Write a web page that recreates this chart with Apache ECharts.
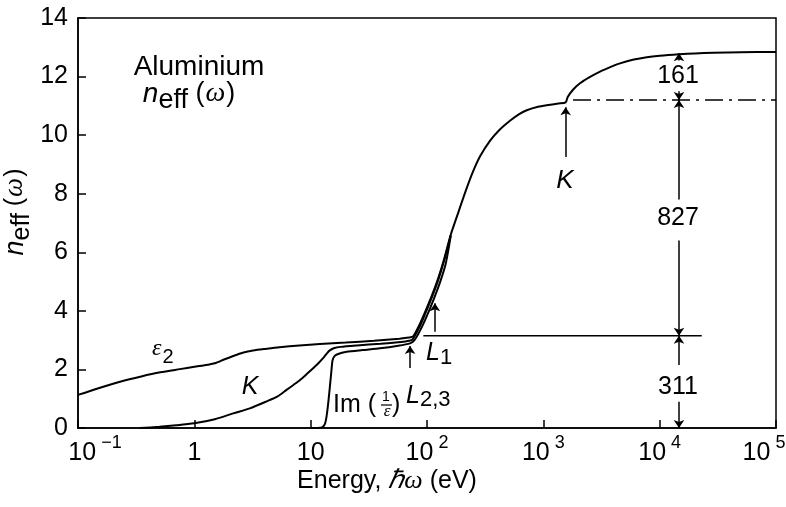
<!DOCTYPE html>
<html><head><meta charset="utf-8">
<script src="https://cdn.jsdelivr.net/npm/echarts@6/dist/echarts.min.js"></script>
<style>html,body{margin:0;padding:0;background:#fff}#c{width:786px;height:507px}</style>
</head><body><div id="c"></div>
<script>
// ---- data ----
const xTickLabels = ['10|−1', '1', '10', '10|2', '10|3', '10|4', '10|5']; // exponents -1..5
const yTicks = [0, 2, 4, 6, 8, 10, 12, 14];

// epsilon_2 sum rule (continues past the K edge)
const eps2Data = [
  [0.1,1.13],[0.15,1.36],[0.23,1.58],[0.35,1.76],[0.51,1.90],[0.75,2.01],[1,2.09],[1.3,2.16],[1.5,2.21],
  [1.8,2.34],[2.16,2.46],[2.6,2.57],[3.2,2.65],[4.2,2.71],[5.4,2.76],[8,2.82],[12,2.87],[20,2.92],
  [35,2.98],[58,3.05],[70,3.09],[76,3.13],[85,3.48],[96,3.95],[110,4.52],[125,5.12],[140,5.75],
  [160,6.6],[180,7.2],[219,8.18],[250,8.78],[286,9.28],[350,9.82],[425,10.2],[520,10.5],[620,10.72],
  [720,10.85],[900,10.97],[1100,11.03],[1350,11.08],[1556,11.12],[1620,11.3],[1800,11.55],[2065,11.77],
  [2500,11.98],[3070,12.17],[3800,12.33],[4560,12.45],[6000,12.58],[7740,12.66],[10000,12.71],
  [14660,12.76],[20000,12.79],[28900,12.81],[50000,12.83],[100000,12.84]
];
// K (extinction coefficient) sum rule
const kData = [
  [0.34,0.0],[0.5,0.04],[0.7,0.09],[1,0.16],[1.5,0.3],[2.16,0.5],[3,0.67],[4.19,0.91],[5.2,1.08],
  [6.2,1.3],[7.1,1.47],[8.1,1.64],[9.3,1.85],[10.5,2.04],[11.7,2.22],[12.9,2.4],[13.8,2.55],[14.6,2.65],
  [16,2.73],[18,2.77],[25,2.82],[40,2.88],[60,2.94],[70,2.98],[75,3.02],[85,3.4],[96,3.88],[110,4.46],
  [125,5.06],[140,5.7],[160,6.58]
];
// Im(1/epsilon) sum rule
const imData = [
  [10,0.0],[12.5,0.02],[13.2,0.12],[13.7,0.4],[14.2,0.9],[14.7,1.5],[15.1,1.98],[15.4,2.3],[16,2.45],
  [17,2.52],[20.4,2.6],[28,2.66],[39.5,2.72],[55,2.8],[71.5,2.89],[78,3.0],[88,3.36],[100,3.84],
  [115,4.43],[130,5.0],[145,5.62],[160,6.56]
];
// extrapolation of the L-shell plateau beyond the K edge (dash-dot)
const kEdgeContinuation = [[1800,11.2],[100000,11.2]];
// L-shell total level
const lShellLevel = [[93,3.15],[23000,3.15]];
// electron-count bracket at ~1.5e4 eV: segments [fromY, toY] (arrow at toY)
const bracketX = 14660;
const bracketSegments = [[0.9,0],[2.15,3.15],[6.4,3.15],[7.8,11.2],[11.5,11.2],[12.55,12.8]];
const bracketLabels = ['311', '827', '161'];
// absorption-edge arrows: [x, fromY, toY]
const edgeArrows = [[1556,9.25,10.95],[71.5,2.05,2.8],[117,3.29,4.26]];

// ---- chart ----
const sans = '"Liberation Sans", Arial, sans-serif';
const serif = '"Liberation Serif", "Times New Roman", serif';
const chart = echarts.init(document.getElementById('c'), null, {renderer: 'canvas'});

const lineBase = {type: 'line', showSymbol: false, symbol: 'none', smooth: 0.25,
  lineStyle: {color: '#000', width: 2}, silent: true, z: 3};

const markSegs = bracketSegments.map(s => [{coord: [bracketX, s[0]]}, {coord: [bracketX, s[1]]}])
  .concat(edgeArrows.map(a => [{coord: [a[0], a[1]]}, {coord: [a[0], a[2]]}]));

function xLabel(v) {
  const e = Math.round(Math.log10(v));
  const i = e + 1;
  const t = xTickLabels[i];
  if (t === undefined) return '';
  const p = t.split('|');
  const bStyle = i === 0 ? 'b0' : 'b';
  const sStyle = i === xTickLabels.length - 1 ? 's5' : 's';
  return p.length > 1 ? '{' + bStyle + '|' + p[0] + '}{' + sStyle + '|' + p[1] + '}' : '{b|' + p[0] + '}';
}

chart.setOption({
  animation: false,
  backgroundColor: '#fff',
  grid: {left: 78, right: 10, top: 18, bottom: 79, show: true, borderColor: '#000', borderWidth: 1.5,
    containLabel: false, outerBoundsMode: 'none'},
  xAxis: {
    type: 'log', logBase: 10, min: 0.1, max: 100000, interval: 1, splitNumber: 6,
    axisLine: {lineStyle: {color: '#000', width: 1.5}},
    axisTick: {inside: true, length: 8, lineStyle: {color: '#000', width: 1.5}},
    minorTick: {show: false}, splitLine: {show: false},
    axisLabel: {
      margin: 9, color: '#000', formatter: xLabel, hideOverlap: false,
      rich: {
        b: {fontSize: 25, fontFamily: sans, lineHeight: 26, padding: [6, 0, 0, 0], color: '#000'},
        b0: {fontSize: 25, fontFamily: sans, lineHeight: 26, padding: [6, 0, 0, 34], color: '#000'},
        s: {fontSize: 18, fontFamily: sans, lineHeight: 18, padding: [0, 0, 14, 5], color: '#000'},
        s5: {fontSize: 18, fontFamily: sans, lineHeight: 18, padding: [0, 24, 14, 5], color: '#000'}
      }
    },
    name: '{a|Energy, }{h|ℏω}{a| (eV)}', nameLocation: 'middle', nameGap: 40, nameMoveOverlap: false,
    nameTextStyle: {
      padding: [0, 80, 0, 0],
      rich: {
        a: {fontSize: 25, fontFamily: sans, color: '#000'},
        h: {fontSize: 26, fontFamily: serif, fontStyle: 'italic', color: '#000'}
      }
    }
  },
  yAxis: {
    type: 'value', min: yTicks[0], max: yTicks[yTicks.length - 1], interval: yTicks[1] - yTicks[0],
    axisLine: {show: true, lineStyle: {color: '#000', width: 1.5}},
    axisTick: {show: true, inside: true, length: 8, lineStyle: {color: '#000', width: 1.5}},
    splitLine: {show: false},
    axisLabel: {margin: 10, fontSize: 25, fontFamily: sans, color: '#000'},
    name: '{n|n}{e|eff}{sp| }{w|(}{o|ω}{w|)}', nameLocation: 'middle', nameGap: 45, nameRotate: 90,
    nameMoveOverlap: false,
    nameTextStyle: {
      padding: [0, 0, 0, 22],
      rich: {
        n: {fontSize: 27, fontFamily: sans, fontStyle: 'italic', color: '#000', lineHeight: 30, padding: [0, 0, 6, 0]},
        e: {fontSize: 25, fontFamily: sans, color: '#000', lineHeight: 28, padding: [8, 0, 0, 0]},
        sp: {fontSize: 25, fontFamily: sans, color: '#000', lineHeight: 30, padding: [0, 0, 6, 0]},
        w: {fontSize: 25, fontFamily: sans, color: '#000', lineHeight: 30, padding: [0, 0, 6, 0]},
        o: {fontSize: 27, fontFamily: serif, fontStyle: 'italic', color: '#000', lineHeight: 30, padding: [0, 1, 6, 1]}
      }
    }
  },
  series: [
    Object.assign({}, lineBase, {name: 'ε2', data: eps2Data}),
    Object.assign({}, lineBase, {name: 'K', data: kData}),
    Object.assign({}, lineBase, {name: 'Im(1/ε)', data: imData}),
    Object.assign({}, lineBase, {name: 'K-edge extrapolation', data: kEdgeContinuation, smooth: false,
      lineStyle: {color: '#000', width: 1.5, type: [18, 6, 3, 6]}}),
    Object.assign({}, lineBase, {name: 'L shell', data: lShellLevel, smooth: false,
      lineStyle: {color: '#000', width: 1.5}}),
    {type: 'line', name: 'annotations', data: [], silent: true,
      markLine: {silent: true, animation: false, symbol: ['none', 'arrow'], symbolSize: 8,
        label: {show: false}, lineStyle: {color: '#000', width: 1.5, type: 'solid'}, data: markSegs}}
  ],
  graphic: [
    {type: 'text', x: 199, y: 67, style: {text: 'Aluminium', font: '28px ' + sans, fill: '#000', align: 'center', verticalAlign: 'middle'}},
    {type: 'text', x: 189, y: 97, style: {text: '{n|n}{e|eff}{sp| }{w|(}{o|ω}{w|)}', fill: '#000', align: 'center', verticalAlign: 'middle',
      rich: {
        n: {fontSize: 28, fontFamily: sans, fontStyle: 'italic', lineHeight: 30, padding: [0, 0, 6, 0]},
        e: {fontSize: 27, fontFamily: sans, lineHeight: 28, padding: [8, 0, 0, 0]},
        sp: {fontSize: 27, fontFamily: sans, lineHeight: 30, padding: [0, 0, 6, 0]},
        w: {fontSize: 27, fontFamily: sans, lineHeight: 30, padding: [0, 0, 6, 0]},
        o: {fontSize: 28, fontFamily: serif, fontStyle: 'italic', lineHeight: 30, padding: [0, 1, 6, 1]}
      }}},
    {type: 'text', x: 152, y: 352, style: {text: '{e|ε}{s|2}', fill: '#000', align: 'left', verticalAlign: 'middle',
      rich: {
        e: {fontSize: 24, fontFamily: serif, fontStyle: 'italic', lineHeight: 24, padding: [0, 0, 6, 0]},
        s: {fontSize: 20, fontFamily: sans, lineHeight: 20, padding: [10, 0, 0, 1]}
      }}},
    {type: 'text', x: 250, y: 387, style: {text: 'K', font: 'italic 25px ' + sans, fill: '#000', align: 'center', verticalAlign: 'middle'}},
    {type: 'text', x: 565, y: 181, style: {text: 'K', font: 'italic 26px ' + sans, fill: '#000', align: 'center', verticalAlign: 'middle'}},
    {type: 'text', x: 333, y: 405, style: {text: 'Im (', font: '25px ' + sans, fill: '#000', align: 'left', verticalAlign: 'middle'}},
    {type: 'text', x: 386, y: 397, style: {text: '1', font: '14px ' + sans, fill: '#000', align: 'center', verticalAlign: 'middle'}},
    {type: 'line', shape: {x1: 381, y1: 405, x2: 392, y2: 405}, style: {stroke: '#000', lineWidth: 1.2}},
    {type: 'text', x: 387, y: 412, style: {text: 'ε', font: 'italic 17px ' + serif, fill: '#000', align: 'center', verticalAlign: 'middle'}},
    {type: 'text', x: 392, y: 405, style: {text: ')', font: '25px ' + sans, fill: '#000', align: 'left', verticalAlign: 'middle'}},
    {type: 'text', x: 406, y: 396, style: {text: 'L', font: 'italic 25px ' + sans, fill: '#000', align: 'left', verticalAlign: 'middle'}},
    {type: 'text', x: 420, y: 400, style: {text: '2,3', font: '22px ' + sans, fill: '#000', align: 'left', verticalAlign: 'middle'}},
    {type: 'text', x: 426, y: 353, style: {text: 'L', font: 'italic 25px ' + sans, fill: '#000', align: 'left', verticalAlign: 'middle'}},
    {type: 'text', x: 440, y: 358, style: {text: '1', font: '22px ' + sans, fill: '#000', align: 'left', verticalAlign: 'middle'}},
    {type: 'text', x: 678, y: 387, style: {text: bracketLabels[0], font: '25px ' + sans, fill: '#000', align: 'center', verticalAlign: 'middle'}},
    {type: 'text', x: 678, y: 218, style: {text: bracketLabels[1], font: '25px ' + sans, fill: '#000', align: 'center', verticalAlign: 'middle'}},
    {type: 'text', x: 678, y: 76, style: {text: bracketLabels[2], font: '25px ' + sans, fill: '#000', align: 'center', verticalAlign: 'middle'}}
  ]
});
</script>
</body></html>
